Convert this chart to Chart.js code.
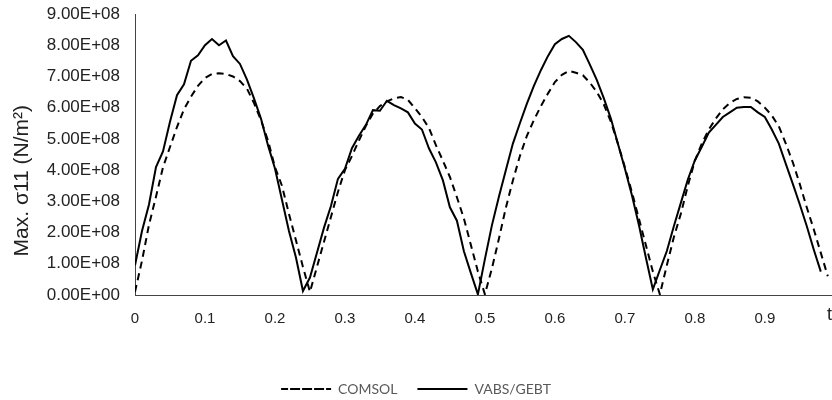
<!DOCTYPE html>
<html>
<head>
<meta charset="utf-8">
<script src="https://cdn.jsdelivr.net/npm/chart.js@4/dist/chart.umd.min.js"></script>
<style>
  html, body { margin: 0; padding: 0; background: #fff; }
  #wrap { width: 832px; height: 400px; }
</style>
</head>
<body>
<div id="wrap"><canvas id="chart" width="832" height="400"></canvas></div>
<script>
// time steps (t)
const tValues = [
    0, 0.01, 0.02, 0.03, 0.04, 0.05, 0.06, 0.07, 0.08, 0.09,
    0.1, 0.11, 0.12, 0.13, 0.14, 0.15, 0.16, 0.17, 0.18, 0.19,
    0.2, 0.21, 0.22, 0.23, 0.24, 0.25, 0.26, 0.27, 0.28, 0.29,
    0.3, 0.31, 0.32, 0.33, 0.34, 0.35, 0.36, 0.37, 0.38, 0.39,
    0.4, 0.41, 0.42, 0.43, 0.44, 0.45, 0.46, 0.47, 0.48, 0.49,
    0.5, 0.51, 0.52, 0.53, 0.54, 0.55, 0.56, 0.57, 0.58, 0.59,
    0.6, 0.61, 0.62, 0.63, 0.64, 0.65, 0.66, 0.67, 0.68, 0.69,
    0.7, 0.71, 0.72, 0.73, 0.74, 0.75, 0.76, 0.77, 0.78, 0.79,
    0.8, 0.81, 0.82, 0.83, 0.84, 0.85, 0.86, 0.87, 0.88, 0.89,
    0.9, 0.91, 0.92, 0.93, 0.94, 0.95, 0.96, 0.97, 0.98, 0.99
];

// Max. sigma11, in units of 1E+08 N/m2
const comsol = [
    0.1, 1.1, 2.25, 3.15, 4.09, 4.74, 5.38, 5.95, 6.35, 6.7,
    6.95, 7.08, 7.1, 7.08, 7.0, 6.85, 6.61, 6.15, 5.6, 4.95,
    4.1, 3.5, 2.6, 1.75, 0.9, 0.1, 0.9, 1.7, 2.5, 3.3,
    4.0, 4.45, 4.95, 5.42, 5.81, 6.05, 6.2, 6.3, 6.34, 6.25,
    5.98, 5.7, 5.35, 4.8, 4.3, 3.78, 3.13, 2.45, 1.6, 0.75,
    0.02, 0.85, 1.8, 2.8, 3.67, 4.45, 5.1, 5.6, 6.05, 6.45,
    6.82, 7.05, 7.18, 7.12, 7.04, 6.8, 6.5, 6.1, 5.55, 4.85,
    4.1, 3.3, 2.45, 1.6, 0.75, 0.02, 0.95, 1.85, 2.6, 3.5,
    4.3, 4.85, 5.3, 5.65, 5.95, 6.15, 6.28, 6.33, 6.32, 6.2,
    6.0, 5.75, 5.4, 4.85, 4.25, 3.55, 2.8, 2.1, 1.35, 0.6
];

const vabsGebt = [
    0.95, 2.05, 2.9, 4.1, 4.6, 5.55, 6.4, 6.75, 7.5, 7.68,
    8.0, 8.2, 8.0, 8.15, 7.65, 7.4, 6.9, 6.3, 5.65, 4.8,
    4.05, 3.05, 2.05, 1.2, 0.13, 0.56, 1.35, 2.15, 2.85, 3.72,
    4.04, 4.7, 5.1, 5.45, 5.92, 5.9, 6.22, 6.08, 5.98, 5.85,
    5.49, 5.3, 4.7, 4.25, 3.67, 2.81, 2.38, 1.4, 0.7, 0.02,
    1.15, 2.23, 3.15, 4.0, 4.85, 5.5, 6.13, 6.7, 7.2, 7.65,
    8.03, 8.2, 8.3, 8.1, 7.85, 7.38, 6.88, 6.3, 5.65, 4.85,
    4.05, 3.2, 2.25, 1.2, 0.18, 0.8, 1.41, 2.2, 2.95, 3.7,
    4.31, 4.75, 5.2, 5.45, 5.7, 5.85, 6.0, 6.02, 6.02, 5.85,
    5.7, 5.3, 4.85, 4.2, 3.56, 2.9, 2.2, 1.45, 0.75
];

const unit = 1e8;
const xTickLabels = ['0', '0.1', '0.2', '0.3', '0.4', '0.5', '0.6', '0.7', '0.8', '0.9'];

const toPoints = vals => vals.map((v, i) => ({ x: tValues[i], y: v * unit }));

// 9.00E+08 style labels
function sci(v) {
    const parts = v.toExponential(2).split('e');
    const n = parseInt(parts[1], 10);
    return parts[0] + 'E' + (n < 0 ? '-' : '+') + String(Math.abs(n)).padStart(2, '0');
}

const sans = "'Liberation Sans', Arial, sans-serif";

new Chart(document.getElementById('chart'), {
    type: 'line',
    data: {
        datasets: [
            {
                label: 'COMSOL',
                data: toPoints(comsol),
                borderColor: '#000',
                backgroundColor: '#000',
                borderWidth: 2,
                borderDash: [7, 5],
                pointRadius: 0,
                tension: 0,
            },
            {
                label: 'VABS/GEBT',
                data: toPoints(vabsGebt),
                borderColor: '#000',
                backgroundColor: '#000',
                borderWidth: 2,
                pointRadius: 0,
                tension: 0,
            },
        ],
    },
    options: {
        responsive: false,
        animation: false,
        devicePixelRatio: 1,
        layout: { padding: { top: 14, bottom: -6, left: 0, right: 0 } },
        plugins: {
            tooltip: { enabled: false },
            legend: {
                position: 'bottom',
                labels: {
                    boxWidth: 50,
                    boxHeight: 0,
                    padding: 20,
                    color: '#595959',
                    font: { family: "Lato, 'Open Sans', sans-serif", size: 14 },
                },
            },
        },
        scales: {
            x: {
                type: 'linear',
                min: 0,
                max: 0.996,
                grid: { display: false, drawTicks: false },
                border: { display: true, color: '#444', width: 1 },
                ticks: {
                    stepSize: 0.1,
                    padding: 15,
                    color: '#222',
                    font: { family: sans, size: 15 },
                    maxRotation: 0,
                    autoSkip: false,
                    callback: (v) => xTickLabels[Math.round(v * 10)],
                },
                afterBuildTicks: (s) => {
                    s.ticks = s.ticks.filter(t => t.value < 0.95);
                },
                title: {
                    display: true,
                    text: 't',
                    align: 'end',
                    color: '#222',
                    padding: { top: 0, bottom: 36 },
                    font: { family: sans, size: 18 },
                },
                afterFit: (s) => { s.height = 67; },
            },
            y: {
                min: 0,
                max: 9 * unit,
                grid: { display: false, drawTicks: false },
                border: { display: true, color: '#444', width: 1 },
                ticks: {
                    stepSize: unit,
                    padding: 15,
                    color: '#222',
                    font: { family: sans, size: 17 },
                    callback: (v) => sci(v),
                },
                title: {
                    display: true,
                    text: 'Max. σ11 (N/m²)' + '\u00a0'.repeat(9),
                    color: '#222',
                    padding: { top: 10, bottom: 0 },
                    font: { family: sans, size: 21 },
                },
                afterFit: (s) => {
                    s.width = 135;
                    s.paddingTop = 8;
                    s.paddingBottom = 8;
                },
            },
        },
    },
});
</script>
</body>
</html>
